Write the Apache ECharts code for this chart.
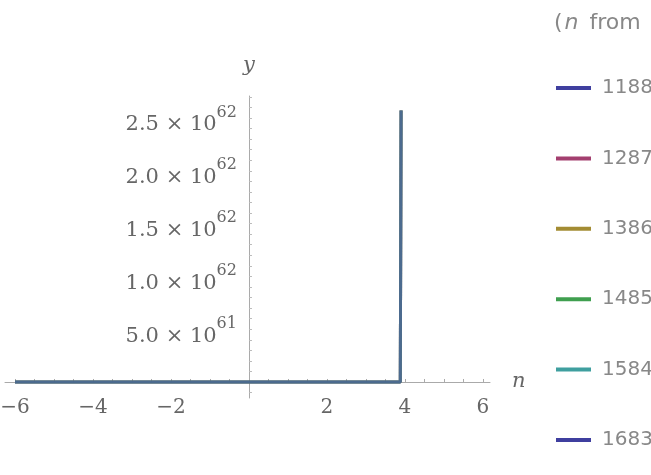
<!DOCTYPE html>
<html>
<head>
<meta charset="utf-8">
<script src="https://cdn.jsdelivr.net/npm/echarts@6/dist/echarts.min.js"></script>
<style>html,body{margin:0;padding:0;background:#fff;}#c{width:651px;height:475px;}</style>
</head>
<body>
<div id="c"></div>
<script>
// ---- data ----
var nValues = [-6, -4, -2, 0, 2, 3.88, 3.9];
var yValues = [0, 0, 0, 0, 0, 0, 2.57e62];
var seriesNames = ['1188', '1287', '1386', '1485', '1584', '1683'];
var seriesColors = ['#3f3f9f', '#a33f6f', '#a38c33', '#3f9f4f', '#3f9f9f', '#3f3f9f'];
var xTickLabels = [-6, -4, -2, 2, 4, 6];
var yTickLabels = [5e61, 1e62, 1.5e62, 2e62, 2.5e62];

var xMinorTicks = [];
for (var i = -12; i <= 12; i++) { if (i !== 0) xMinorTicks.push(i * 0.5); }
var yMinorTicks = [];
for (var k = -1; k <= 27; k++) { if (k !== 0) yMinorTicks.push(k * 1e61); }

function pairs() {
  return nValues.map(function (n, i) { return [n, yValues[i]]; });
}

var serif = 'DejaVu Serif';
var sans = 'DejaVu Sans';
var GRID_LEFT = 5, GRID_W = 485, GRID_TOP = 96, GRID_H = 302;
var X_MIN = -6.256, X_MAX = 6.18, Y_MIN = -1.515e61, Y_MAX = 2.708e62;
// offsets that put each axis through the other's zero
var yAxisOffset = -((0 - X_MIN) / (X_MAX - X_MIN) * GRID_W);
var xAxisOffset = -((0 - Y_MIN) / (Y_MAX - Y_MIN) * GRID_H);

var series = seriesNames.map(function (name, i) {
  return {
    name: name,
    type: 'line',
    data: pairs(),
    showSymbol: false,
    symbol: 'none',
    color: seriesColors[i],
    lineStyle: { width: 3, color: seriesColors[i], opacity: 0.5 },
    itemStyle: { color: seriesColors[i] },
    animation: false
  };
});

var chart = echarts.init(document.getElementById('c'), null, { renderer: 'canvas' });
chart.setOption({
  animation: false,
  backgroundColor: '#ffffff',
  title: {
    left: 554, top: 12, padding: 0,
    text: '{p|(}{i|n}{p| from}',
    textStyle: {
      fontWeight: 'normal',
      rich: {
        p: { fontFamily: sans, fontSize: 22, fontWeight: 'normal', color: '#888' },
        i: { fontFamily: sans, fontStyle: 'italic', fontSize: 22, fontWeight: 'normal', color: '#888', padding: [0, 4, 0, 2] }
      }
    }
  },
  legend: {
    orient: 'vertical',
    left: 556, top: 78, padding: 0,
    icon: 'rect',
    itemWidth: 35, itemHeight: 4,
    itemGap: 50.4,
    data: seriesNames,
    textStyle: { fontFamily: sans, fontSize: 20, color: '#888', padding: [0, 0, 0, 6] }
  },
  grid: { left: GRID_LEFT, width: GRID_W, top: GRID_TOP, height: GRID_H, containLabel: false, outerBoundsMode: 'none' },
  xAxis: {
    type: 'value',
    min: X_MIN, max: X_MAX,
    offset: xAxisOffset,
    name: 'n',
    nameLocation: 'end',
    nameGap: 22,
    nameTextStyle: { fontFamily: serif, fontStyle: 'italic', fontSize: 21, color: '#666', verticalAlign: 'middle' },
    axisLine: { onZero: false, lineStyle: { color: '#aaa', width: 1 } },
    axisTick: { show: true, inside: true, length: 3, customValues: xMinorTicks, lineStyle: { color: '#aaa' } },
    axisLabel: {
      customValues: xTickLabels,
      margin: 16,
      fontFamily: serif, fontSize: 20, color: '#666',
      formatter: function (v) { return (v < 0 ? '\u2212' : '') + Math.abs(v); }
    },
    splitLine: { show: false }
  },
  yAxis: {
    type: 'value',
    min: Y_MIN, max: Y_MAX,
    offset: yAxisOffset,
    name: 'y',
    nameLocation: 'end',
    nameGap: 20,
    nameTextStyle: { fontFamily: serif, fontStyle: 'italic', fontSize: 21, color: '#666' },
    axisLine: { onZero: false, lineStyle: { color: '#aaa', width: 1 } },
    axisTick: { show: true, inside: true, length: 3, customValues: yMinorTicks, lineStyle: { color: '#bbb' } },
    axisLabel: {
      customValues: yTickLabels,
      margin: 12,
      fontFamily: serif, fontSize: 21,
      color: '#666',
      formatter: function (v) {
        var e = Math.floor(Math.log10(v) + 1e-9);
        var m = v / Math.pow(10, e);
        return '{m|' + m.toFixed(1) + ' \u00d7 10}{s|' + e + '}';
      },
      rich: {
        m: { fontFamily: serif, fontSize: 21, color: '#666', padding: [14, 0, 0, 0] },
        s: { fontFamily: serif, fontSize: 16, color: '#666', verticalAlign: 'top', padding: [4, 0, 0, 0] }
      }
    },
    splitLine: { show: false }
  },
  series: series
});
</script>
</body>
</html>
